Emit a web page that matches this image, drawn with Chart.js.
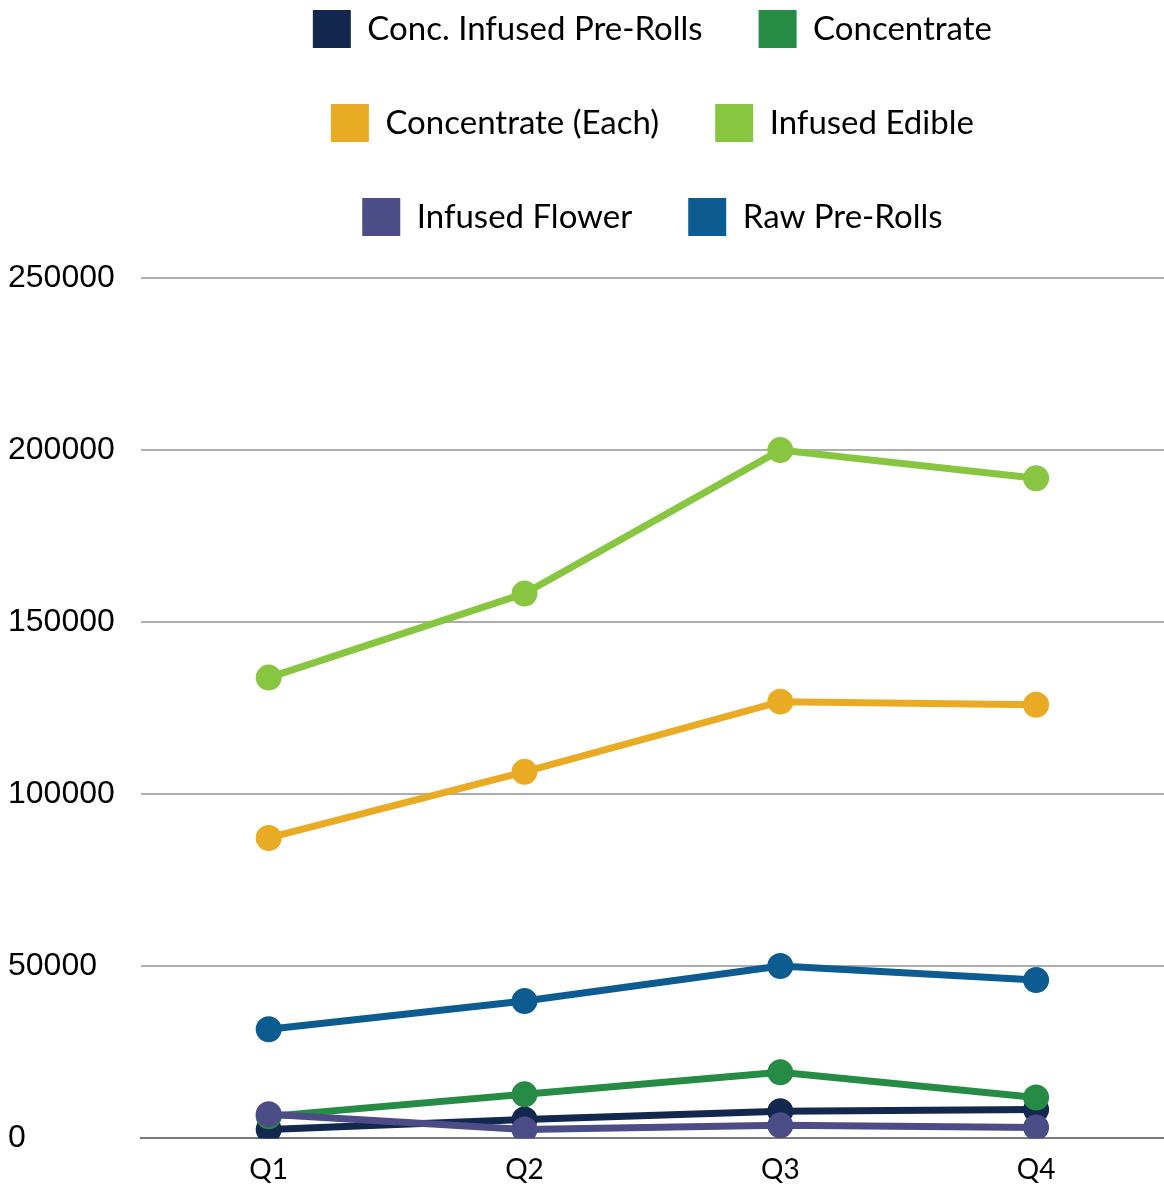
<!DOCTYPE html>
<html>
<head>
<meta charset="utf-8">
<script src="https://cdn.jsdelivr.net/npm/chart.js@4.4.1/dist/chart.umd.min.js"></script>
<style>
    body { margin: 0; background: #fff; }
    #wrap { width: 1164px; height: 1184px; }
</style>
</head>
<body>
<div id="wrap"><canvas id="grafico" width="1164" height="1184"></canvas></div>
<script>
// dados
const quarters = ['Q1', 'Q2', 'Q3', 'Q4'];
const seriesNames = ['Conc. Infused Pre-Rolls', 'Concentrate', 'Concentrate (Each)', 'Infused Edible', 'Infused Flower', 'Raw Pre-Rolls'];
const concInfusedPreRolls = [2600, 5500, 7900, 8400];
const concentrate = [6400, 12800, 19200, 11900];
const concentrateEach = [87300, 106500, 126900, 126000];
const infusedEdible = [133900, 158300, 200000, 191800];
const infusedFlower = [7000, 2600, 3800, 3200];
const rawPreRolls = [31700, 39900, 50100, 46000];
const yTicks = [0, 50000, 100000, 150000, 200000, 250000];

const cores = ['#13284f', '#268c45', '#eaab24', '#88c540', '#4c4c87', '#0d5c91'];
const valores = [concInfusedPreRolls, concentrate, concentrateEach, infusedEdible, infusedFlower, rawPreRolls];

const datasets = seriesNames.map(function (nome, i) {
    return {
        label: nome,
        data: valores[i],
        borderColor: cores[i],
        backgroundColor: cores[i],
        pointBackgroundColor: cores[i],
        pointBorderColor: cores[i],
        borderWidth: 7,
        pointRadius: 9.5,
        pointHoverRadius: 9.5,
        tension: 0,
        order: seriesNames.length - i
    };
});

new Chart(document.getElementById('grafico'), {
    type: 'line',
    data: { labels: quarters, datasets: datasets },
    options: {
        responsive: false,
        animation: false,
        devicePixelRatio: 1,
        layout: {
            autoPadding: false,
            padding: { top: -46, left: 8, right: 0, bottom: -10 }
        },
        plugins: {
            tooltip: { enabled: false },
            legend: {
                position: 'top',
                fullSize: false,
                labels: {
                    boxWidth: 38,
                    boxHeight: 38,
                    padding: 56,
                    color: '#000',
                    font: { family: 'Lato', size: 33 },
                    sort: function (a, b) { return a.datasetIndex - b.datasetIndex; },
                    generateLabels: function (chart) {
                        const itens = Chart.defaults.plugins.legend.labels.generateLabels(chart);
                        itens.forEach(function (it) { it.lineWidth = 0; });
                        return itens;
                    }
                }
            },
            // espaco entre legenda e grafico
            title: {
                display: true,
                text: '',
                weight: 500,
                padding: 0,
                font: { size: 20, lineHeight: 1.6 }
            }
        },
        scales: {
            x: {
                offset: true,
                grid: { display: false },
                border: { display: true, color: '#7a7a7a', width: 2 },
                ticks: { color: '#000', padding: 7, font: { family: 'Lato', size: 28 } }
            },
            y: {
                min: 0,
                max: 250000,
                afterBuildTicks: function (axis) {
                    axis.ticks = yTicks.map(function (v) { return { value: v }; });
                },
                border: { display: false },
                grid: { color: '#adadad', lineWidth: 2, drawTicks: false },
                ticks: {
                    color: '#000',
                    padding: 13,
                    crossAlign: 'far',
                    font: { family: "'Liberation Sans', Arial", size: 32 },
                    callback: function (v) { return String(v); }
                }
            }
        }
    }
});
</script>
</body>
</html>
